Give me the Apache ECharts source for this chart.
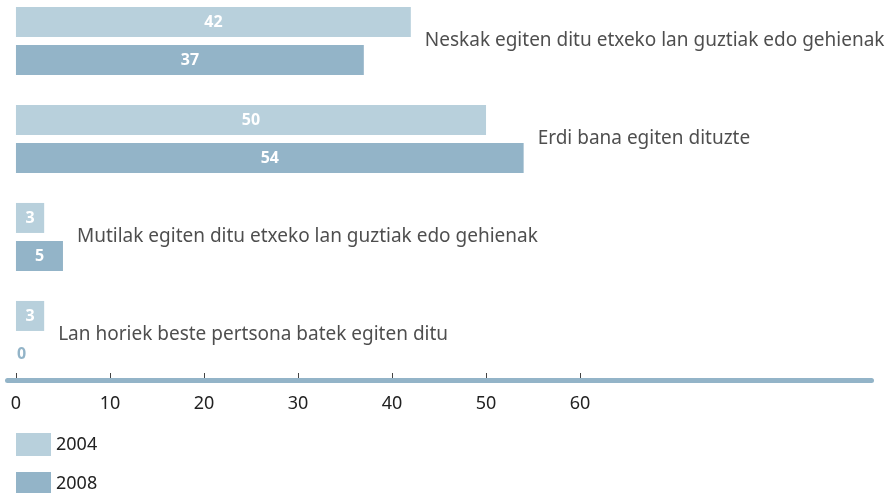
<!DOCTYPE html>
<html>
<head>
<meta charset="utf-8">
<script src="https://cdn.jsdelivr.net/npm/echarts@6/dist/echarts.min.js"></script>
<style>
  html, body { margin: 0; padding: 0; background: #fff; }
  #chart { width: 889px; height: 493px; }
</style>
</head>
<body>
<div id="chart"></div>
<script>
// datuak
const categories = [
  'Neskak egiten ditu etxeko lan guztiak edo gehienak',
  'Erdi bana egiten dituzte',
  'Mutilak egiten ditu etxeko lan guztiak edo gehienak',
  'Lan horiek beste pertsona batek egiten ditu'
]
const values2004 = [42, 50, 3, 3]
const values2008 = [37, 54, 5, 0]
const tickValues = [0, 10, 20, 30, 40, 50, 60]

const light = '#b8d0dc'
const dark = '#93b4c8'
const textColor = '#222'
const font = '"Noto Sans", sans-serif'

const myChart = echarts.init(document.getElementById('chart'))

// zero values get their label next to the axis instead of inside the bar
function barData (vals, color) {
  return vals.map(v => v === 0
    ? { value: v, label: { position: 'right', distance: 1, color: color } }
    : v)
}

const barLabel = {
  show: true,
  position: 'inside',
  color: '#fff',
  fontWeight: 'bold',
  fontSize: 16,
  fontFamily: font
}

const option = {
  animation: false,
  grid: { left: 7.5, right: 17.5, top: -8, height: 392, outerBoundsMode: 'none' },
  legend: {
    orient: 'vertical',
    left: 16,
    top: 433,
    height: 70,
    padding: 0,
    icon: 'rect',
    itemWidth: 35,
    itemHeight: 23,
    itemGap: 16,
    data: ['2004', '2008'],
    textStyle: { fontSize: 18, color: textColor, fontFamily: font }
  },
  xAxis: [
    {
      type: 'value',
      position: 'bottom',
      min: -0.9,
      max: 91,
      offset: -4,
      splitLine: { show: false },
      axisLine: { show: true, lineStyle: { color: dark, width: 5 } },
      axisTick: { show: false },
      axisLabel: {
        customValues: tickValues,
        margin: 15,
        fontSize: 18,
        color: textColor,
        fontFamily: font
      }
    },
    {
      type: 'value',
      position: 'bottom',
      min: -0.9,
      max: 91,
      offset: -6,
      splitLine: { show: false },
      axisLine: { show: false },
      axisLabel: { show: false },
      axisTick: {
        show: true,
        inside: true,
        length: 5,
        customValues: tickValues,
        lineStyle: { color: '#444', width: 1 }
      }
    }
  ],
  yAxis: {
    type: 'category',
    inverse: true,
    data: categories,
    axisLine: { show: false },
    axisTick: { show: false },
    axisLabel: { show: false }
  },
  series: [
    {
      name: '2004',
      type: 'bar',
      barWidth: 30,
      barGap: '27%',
      itemStyle: { color: light },
      label: barLabel,
      data: barData(values2004, light)
    },
    {
      name: '2008',
      type: 'bar',
      barWidth: 30,
      barGap: '27%',
      itemStyle: { color: dark },
      label: barLabel,
      data: barData(values2008, dark)
    },
    {
      // kategoria izenak barra luzeenaren ondoan
      type: 'scatter',
      symbolSize: 0,
      silent: true,
      label: {
        show: true,
        position: 'right',
        distance: 14,
        formatter: p => categories[p.value[1]],
        fontSize: 19,
        color: textColor,
        fontFamily: font
      },
      data: categories.map((c, i) => [Math.max(values2004[i], values2008[i]), i])
    }
  ]
}
myChart.setOption(option)
</script>
</body>
</html>
